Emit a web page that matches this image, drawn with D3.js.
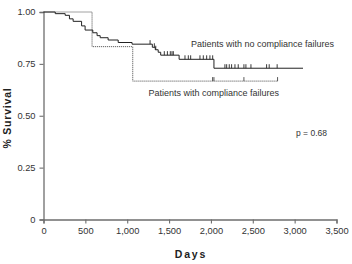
<!DOCTYPE html>
<html>
<head>
<meta charset="utf-8">
<script src="https://cdn.jsdelivr.net/npm/d3@7"></script>
<style>
  body { margin: 0; background: #fff; }
  svg text { font-family: "Liberation Sans", Arial, sans-serif; }
</style>
</head>
<body>
<div id="container"></div>
<script>
// group without compliance failures (solid line)
var noFailTimes = [0, 140, 259, 310, 354, 455, 497, 589, 640, 677, 772, 892, 1058, 1300, 1335, 1370, 1400, 1620, 2036]
var noFailSurv = [1.0, 0.992, 0.984, 0.967, 0.955, 0.933, 0.913, 0.900, 0.886, 0.876, 0.865, 0.853, 0.845, 0.830, 0.818, 0.806, 0.792, 0.772, 0.729]
var noFailEnd = 3100
var noFailCensor = [1273, 1324, 1341, 1443, 1480, 1515, 1535, 1551,
  1690, 1730, 1758, 1869, 1909, 1949, 1988, 2021,
  2167, 2188, 2219, 2247, 2287, 2326, 2394, 2418, 2478, 2665, 2696, 2791]

// group with compliance failures (dotted line)
var failTimes = [0, 580, 1066]
var failSurv = [1.0, 0.833, 0.667]
var failEnd = 2796
var failCensor = [2020, 2036, 2394, 2796]

var xTicks = [0, 500, 1000, 1500, 2000, 2500, 3000, 3500]
var yTicks = [0, 0.25, 0.5, 0.75, 1]
var yTickLabels = ['0', '0.25', '0.50', '0.75', '1.00']

var WIDTH = 352
var HEIGHT = 264

var svg = d3.select('div#container').append('svg')
  .attr('width', WIDTH)
  .attr('height', HEIGHT)

var x = d3.scaleLinear().domain([0, 3500]).range([43.5, 336.5])
var y = d3.scaleLinear().domain([0, 1]).range([219.5, 12])

var axisColor = '#6e6e6e'
var textColor = '#333'

var xAxis = svg.append('g')
  .attr('transform', 'translate(0,' + y(0) + ')')
  .call(d3.axisBottom(x).tickValues(xTicks).tickFormat(d3.format(',')).tickSize(4).tickPadding(4))
var yAxis = svg.append('g')
  .attr('transform', 'translate(' + x(0) + ',0)')
  .call(d3.axisLeft(y).tickValues(yTicks).tickFormat(function (d, i) { return yTickLabels[i] }).tickSize(4).tickPadding(4))

;[xAxis, yAxis].forEach(function (g) {
  g.select('.domain').attr('stroke', axisColor).attr('stroke-width', 1.3)
  g.selectAll('.tick line').attr('stroke', axisColor).attr('stroke-width', 1.1)
  g.selectAll('.tick text').attr('fill', textColor).style('font-size', '9.3px')
})

var line = d3.line()
  .x(function (d) { return x(d[0]) })
  .y(function (d) { return y(d[1]) })
  .curve(d3.curveStepAfter)

function pts(times, surv, end) {
  var p = times.map(function (t, i) { return [t, surv[i]] })
  p.push([end, surv[surv.length - 1]])
  return p
}

function survAt(times, surv, t) {
  var s = surv[0]
  for (var i = 0; i < times.length; i++) {
    if (times[i] <= t) s = surv[i]
  }
  return s
}

svg.append('path')
  .attr('d', line(pts(failTimes, failSurv, failEnd)))
  .attr('fill', 'none')
  .attr('stroke', '#444')
  .attr('stroke-width', 1)
  .attr('stroke-dasharray', '1,1')

svg.append('path')
  .attr('d', line(pts(noFailTimes, noFailSurv, noFailEnd)))
  .attr('fill', 'none')
  .attr('stroke', '#222')
  .attr('stroke-width', 1)

svg.selectAll('line.cens1').data(noFailCensor).enter().append('line')
  .attr('x1', function (d) { return x(d) })
  .attr('x2', function (d) { return x(d) })
  .attr('y1', function (d) { return y(survAt(noFailTimes, noFailSurv, d)) - 4 })
  .attr('y2', function (d) { return y(survAt(noFailTimes, noFailSurv, d)) })
  .attr('stroke', '#222')
  .attr('stroke-width', 0.9)

svg.selectAll('line.cens2').data(failCensor).enter().append('line')
  .attr('x1', function (d) { return x(d) })
  .attr('x2', function (d) { return x(d) })
  .attr('y1', function (d) { return y(survAt(failTimes, failSurv, d)) - 4 })
  .attr('y2', function (d) { return y(survAt(failTimes, failSurv, d)) })
  .attr('stroke', '#444')
  .attr('stroke-width', 0.9)

svg.append('text')
  .attr('x', 191).attr('y', 46.5)
  .attr('fill', textColor)
  .style('font-size', '9px')
  .text('Patients with no compliance failures')

svg.append('text')
  .attr('x', 148.5).attr('y', 95.5)
  .attr('fill', textColor)
  .style('font-size', '9px')
  .text('Patients with compliance failures')

svg.append('text')
  .attr('x', 296).attr('y', 135.5)
  .attr('fill', textColor)
  .style('font-size', '8.5px')
  .text('p = 0.68')

svg.append('text')
  .attr('transform', 'translate(10.5,118) rotate(-90)')
  .attr('text-anchor', 'middle')
  .attr('fill', '#222')
  .style('font-size', '10.5px')
  .style('font-weight', 'bold')
  .style('letter-spacing', '0.8px')
  .text('% Survival')

svg.append('text')
  .attr('x', 191).attr('y', 258)
  .attr('text-anchor', 'middle')
  .attr('fill', '#222')
  .style('font-size', '10.5px')
  .style('font-weight', 'bold')
  .style('letter-spacing', '1.8px')
  .text('Days')
</script>
</body>
</html>
